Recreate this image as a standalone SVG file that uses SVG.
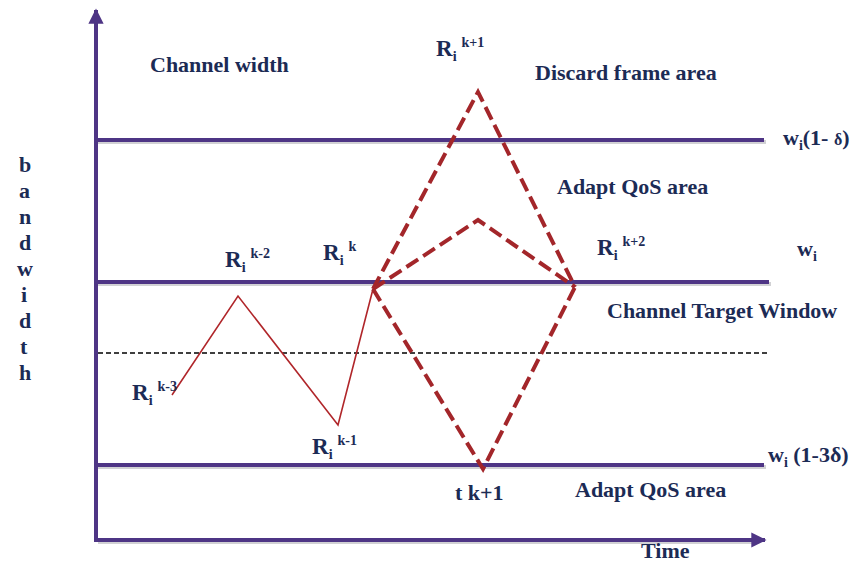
<svg xmlns="http://www.w3.org/2000/svg" width="850" height="563" viewBox="0 0 850 563">
<defs>
<style>
.t{font-family:"Liberation Serif","Times New Roman",serif;font-weight:bold;fill:#1c2b55;font-size:22px}
.r{font-size:23px}
.sub{font-size:14px}
.sup{font-size:14px}
.ax{stroke:#4e3585;stroke-width:4;fill:none}
.lv{stroke:#4e3585;stroke-width:4;fill:none}
.sh{stroke:#9a9aa0;stroke-width:4;fill:none;opacity:0.45}
.zz{stroke:#b0262a;stroke-width:1.6;fill:none}
.dr{stroke:#a3262a;stroke-width:4;fill:none;stroke-dasharray:14 6}
.bl{stroke:#000;stroke-width:1.4;stroke-dasharray:5 3;fill:none}
</style>
<marker id="ah" viewBox="0 0 10 10" refX="9" refY="5" markerWidth="3.8" markerHeight="3.8" orient="auto" markerUnits="strokeWidth">
<path d="M0,0 L10,5 L0,10 z" fill="#4e3585"/>
</marker>
</defs>
<rect width="850" height="563" fill="#fff"/>
<g id="axes">
<line class="sh" x1="98" y1="542" x2="754" y2="542"/>
<line class="ax" x1="96" y1="540" x2="765" y2="540" marker-end="url(#ah)"/>
<line class="ax" x1="96" y1="542" x2="96" y2="10" marker-end="url(#ah)"/>
</g>
<g id="levels">
<line class="sh" x1="98" y1="142" x2="766" y2="142"/>
<line class="lv" x1="96" y1="140" x2="764" y2="140"/>
<line class="sh" x1="98" y1="284" x2="771" y2="284"/>
<line class="lv" x1="96" y1="282" x2="769" y2="282"/>
<line class="sh" x1="98" y1="467" x2="766" y2="467"/>
<line class="lv" x1="96" y1="465" x2="764" y2="465"/>
<line class="bl" x1="98" y1="353" x2="768" y2="353"/>
</g>
<g id="connectors">
<polyline class="zz" points="172,395 238,296 338,425 373,289"/>
<polyline class="dr" points="373,289 478,92 575,287"/>
<polyline class="dr" points="373,289 478,220 575,287"/>
<polyline class="dr" points="373,289 483,469 575,287"/>
</g>
<g id="labels">
<text class="t" x="150" y="72">Channel width</text>
<text class="t" x="535" y="80">Discard frame area</text>
<text class="t" x="557" y="194">Adapt QoS area</text>
<text class="t" x="607" y="318">Channel Target Window</text>
<text class="t" x="575" y="497">Adapt QoS area</text>
<text class="t" x="641" y="558">Time</text>
<text class="t" x="455" y="500">t k+1</text>
<text class="t r" x="436" y="56">R<tspan class="sub" dy="5">i</tspan><tspan class="sup" dx="5" dy="-14">k+1</tspan></text>
<text class="t r" x="323" y="260">R<tspan class="sub" dy="5">i</tspan><tspan class="sup" dx="5" dy="-14">k</tspan></text>
<text class="t r" x="225" y="267">R<tspan class="sub" dy="5">i</tspan><tspan class="sup" dx="5" dy="-14">k-2</tspan></text>
<text class="t r" x="597" y="255">R<tspan class="sub" dy="5">i</tspan><tspan class="sup" dx="5" dy="-14">k+2</tspan></text>
<text class="t r" x="132" y="400">R<tspan class="sub" dy="5">i</tspan><tspan class="sup" dx="5" dy="-14">k-3</tspan></text>
<text class="t r" x="312" y="454">R<tspan class="sub" dy="5">i</tspan><tspan class="sup" dx="5" dy="-14">k-1</tspan></text>
<text class="t" x="783" y="145">w<tspan class="sub" dy="5">i</tspan><tspan dy="-5">(1- </tspan><tspan font-size="16">δ</tspan>)</text>
<text class="t" x="797" y="256">w<tspan class="sub" dy="5">i</tspan></text>
<text class="t" x="768" y="462">w<tspan class="sub" dy="5">i</tspan><tspan dy="-5"> (1-3δ)</tspan></text>
<text class="t" x="19" y="172">b</text>
<text class="t" x="19" y="198">a</text>
<text class="t" x="19" y="224">n</text>
<text class="t" x="19" y="250">d</text>
<text class="t" x="17" y="276">w</text>
<text class="t" x="21" y="302">i</text>
<text class="t" x="19" y="328">d</text>
<text class="t" x="20" y="354">t</text>
<text class="t" x="19" y="380">h</text>
</g>
</svg>
